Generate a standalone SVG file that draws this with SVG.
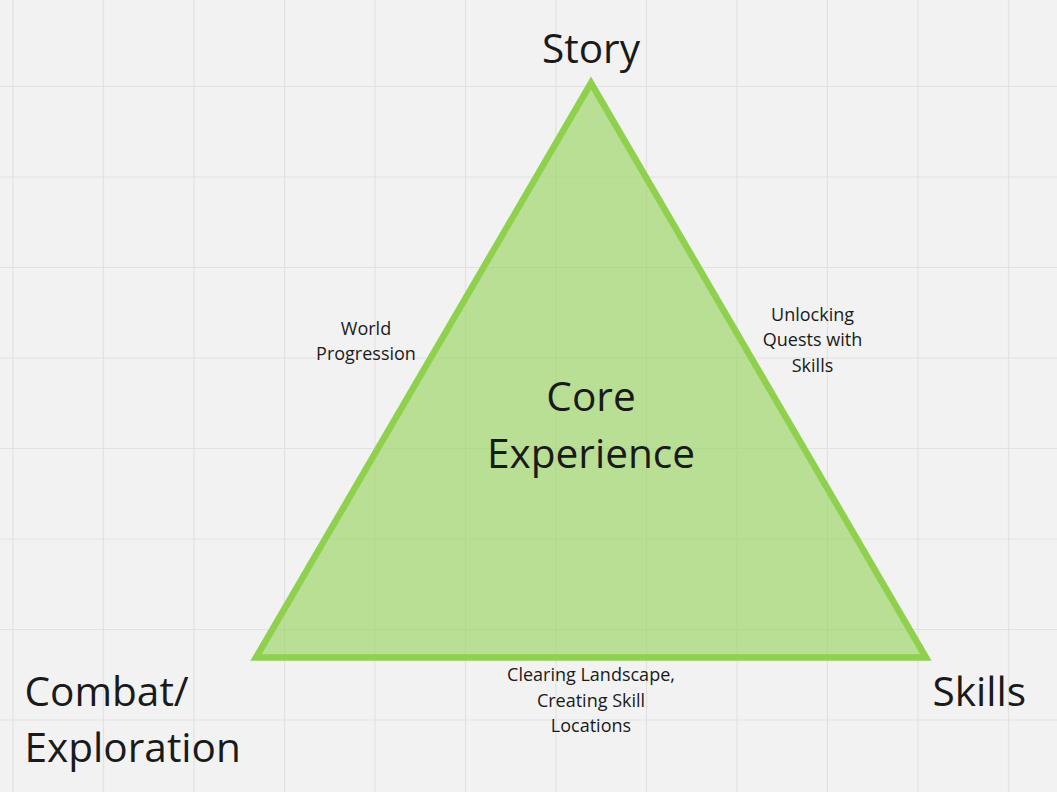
<svg xmlns="http://www.w3.org/2000/svg" width="1057" height="792" viewBox="0 0 1057 792">
  <style>
    .grid line { stroke: #e2e2e2; stroke-width: 1.2; }
    .big { font-family: "Open Sans", "Noto Sans", sans-serif; font-size: 40.6px; fill: #1a1a1a; }
    .small { font-family: "Open Sans", "Noto Sans", sans-serif; font-size: 18px; fill: #1a1a1a; }
    .mid { text-anchor: middle; }
  </style>
  <rect x="0" y="0" width="1057" height="792" fill="#f2f2f2"/>
  <g class="grid">
    <line x1="13" y1="0" x2="13" y2="792"/>
    <line x1="103.5" y1="0" x2="103.5" y2="792"/>
    <line x1="194" y1="0" x2="194" y2="792"/>
    <line x1="284.5" y1="0" x2="284.5" y2="792"/>
    <line x1="375" y1="0" x2="375" y2="792"/>
    <line x1="465.5" y1="0" x2="465.5" y2="792"/>
    <line x1="556" y1="0" x2="556" y2="792"/>
    <line x1="646.5" y1="0" x2="646.5" y2="792"/>
    <line x1="737" y1="0" x2="737" y2="792"/>
    <line x1="827.5" y1="0" x2="827.5" y2="792"/>
    <line x1="918" y1="0" x2="918" y2="792"/>
    <line x1="1008.5" y1="0" x2="1008.5" y2="792"/>
    <line x1="0" y1="86.5" x2="1057" y2="86.5"/>
    <line x1="0" y1="177" x2="1057" y2="177"/>
    <line x1="0" y1="267.5" x2="1057" y2="267.5"/>
    <line x1="0" y1="358" x2="1057" y2="358"/>
    <line x1="0" y1="448.5" x2="1057" y2="448.5"/>
    <line x1="0" y1="539" x2="1057" y2="539"/>
    <line x1="0" y1="629.5" x2="1057" y2="629.5"/>
    <line x1="0" y1="720" x2="1057" y2="720"/>
  </g>
  <g id="core-experience">
    <polygon points="591,83 256,657.5 926,657.5" fill="#8fd14f" fill-opacity="0.57" stroke="#8fd14f" stroke-width="6.5" stroke-linejoin="miter"/>
    <text class="big mid" x="591" y="411">Core</text>
    <text class="big mid" x="591" y="468">Experience</text>
  </g>
  <g id="story">
    <text class="big mid" x="591" y="63">Story</text>
  </g>
  <g id="combat-exploration">
    <text class="big" x="24.5" y="705.5">Combat/</text>
    <text class="big" x="24.5" y="762">Exploration</text>
  </g>
  <g id="skills">
    <text class="big" x="932.5" y="705.5">Skills</text>
  </g>
  <g id="world-progression">
    <text class="small mid" x="366" y="334.5">World</text>
    <text class="small mid" x="366" y="360">Progression</text>
  </g>
  <g id="unlocking-quests">
    <text class="small mid" x="812.5" y="320.5">Unlocking</text>
    <text class="small mid" x="812.5" y="346">Quests with</text>
    <text class="small mid" x="812.5" y="371.5">Skills</text>
  </g>
  <g id="clearing-landscape">
    <text class="small mid" x="591" y="681">Clearing Landscape,</text>
    <text class="small mid" x="591" y="706.5">Creating Skill</text>
    <text class="small mid" x="591" y="732">Locations</text>
  </g>
</svg>
